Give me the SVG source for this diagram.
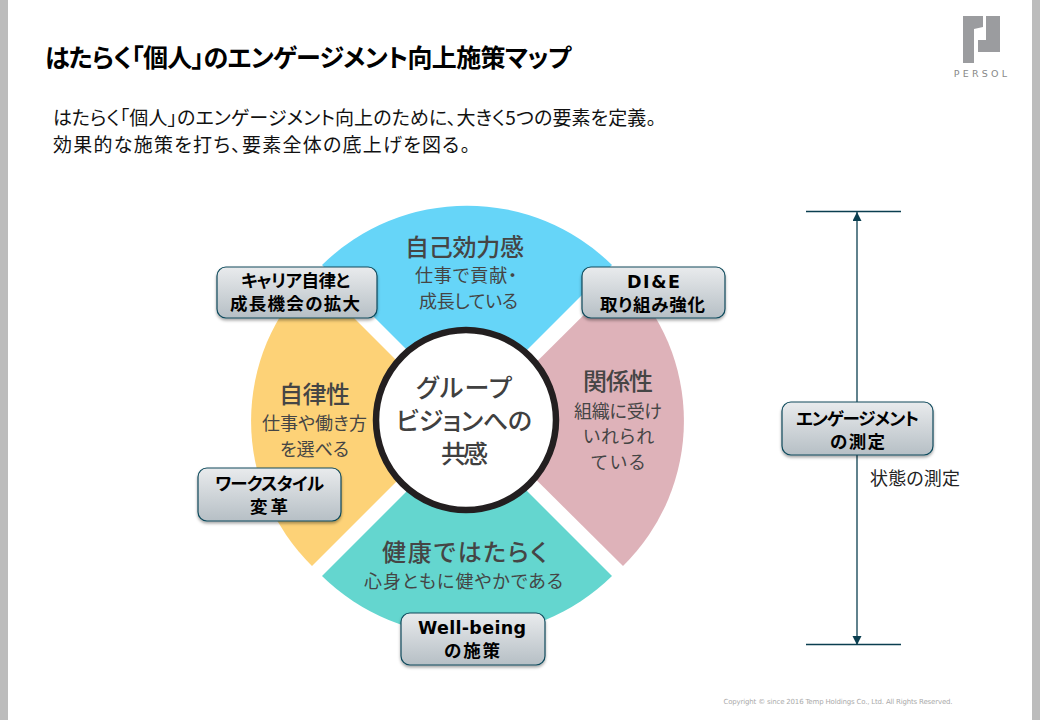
<svg xmlns="http://www.w3.org/2000/svg" width="1040" height="720" viewBox="0 0 1040 720">
<style>
text{font-family:"Noto Sans CJK JP","Noto Sans CJK SC",sans-serif;text-anchor:middle;font-feature-settings:"palt"}
.h{font-size:24px;fill:#454545;font-weight:500}
.s{font-size:18px;fill:#454545}
.c{font-size:25px;fill:#404040;font-weight:500}
.b{font-size:17.5px;font-weight:700;fill:#000}
.l{font-family:"DejaVu Sans","Noto Sans CJK JP",sans-serif}
.box{fill:url(#g);stroke:#0e4a5c;stroke-width:1.2;filter:url(#sh)}
.ln{stroke:#0b3f50;stroke-width:1.3;fill:none}
.bar{fill:#bcbcbc}
</style>
<defs>
<linearGradient id="g" x1="0" y1="0" x2="0" y2="1"><stop offset="0" stop-color="#e9ebed"/><stop offset="1" stop-color="#b6bfc5"/></linearGradient>
<filter id="sh" x="-10%" y="-15%" width="120%" height="140%"><feDropShadow dx="0" dy="2" stdDeviation="1.5" flood-color="#000" flood-opacity=".35"/></filter>
<marker id="ar" markerWidth="10" markerHeight="10" refX="9" refY="4.5" orient="auto-start-reverse" markerUnits="userSpaceOnUse"><path d="M0,0L9,4.5L0,9Z" fill="#0b3f50"/></marker>
</defs>
<rect width="1040" height="720" fill="#fff"/>
<rect class="bar" x="0" y="0" width="8" height="720"/>
<rect class="bar" x="1032" y="0" width="8" height="720"/>
<text x="45" y="67" style="text-anchor:start;font-size:25px;font-weight:700;fill:#000" textLength="526">はたらく「個人」のエンゲージメント向上施策マップ</text>
<text x="53" y="125" style="text-anchor:start;font-size:19px;fill:#111" textLength="603">はたらく「個人」のエンゲージメント向上のために、大きく5つの要素を定義。</text>
<text x="53" y="152" style="text-anchor:start;font-size:19px;fill:#111" textLength="417">効果的な施策を打ち、要素全体の底上げを図る。</text>
<g id="logo">
<path d="M963,16H983V27L974,29V63H963Z" fill="#9b9c9f"/>
<path d="M986,16H1000V52H978V40H986Z" fill="#9b9c9f"/>
<text x="982" y="77" style="font-family:'DejaVu Sans',sans-serif;font-size:9.5px;letter-spacing:3.2px;fill:#888">PERSOL</text>
</g>
<g id="seg-self"><path d="M322,265A207,207 0 0 1 612,265L467,410Z" fill="#66d5f8"/>
<text class="h" x="464.5" y="256" textLength="119">自己効力感</text><text class="s" x="466" y="282" textLength="102">仕事で貢献・</text><text class="s" x="468.5" y="308" textLength="99">成長している</text></g>
<g id="seg-auto"><path d="M312,276A203,203 0 0 0 312,566L457,421Z" fill="#fdd277"/>
<text class="h" x="314.5" y="403" textLength="71">自律性</text><text class="s" x="314.5" y="430" textLength="105">仕事や働き方</text><text class="s" x="314.5" y="456" textLength="69">を選べる</text></g>
<g id="seg-rel"><path d="M623,276A203,203 0 0 1 623,566L477,421Z" fill="#deb2b9"/>
<text class="h" x="618" y="390" textLength="70">関係性</text><text class="s" x="618" y="418" textLength="88">組織に受け</text><text class="s" x="618.5" y="443" textLength="71">いれられ</text><text class="s" x="618" y="469" textLength="54">ている</text></g>
<g id="seg-health"><path d="M322,576A207,207 0 0 0 612,576L467,431Z" fill="#64d6cf"/>
<text class="h" x="464.5" y="561" textLength="165">健康ではたらく</text><text class="s" x="463.5" y="588" textLength="199">心身ともに健やかである</text></g>
<g id="center"><circle cx="466" cy="420" r="90" fill="#fff" stroke="#231f20" stroke-width="6.5"/>
<text class="c" x="464" y="397" textLength="96">グループ</text><text class="c" x="464" y="430" textLength="136">ビジョンへの</text><text class="c" x="464.5" y="463" textLength="47">共感</text></g>
<g id="connectors">
<path class="ln" d="M806,211.5H901M806,644.5H901"/>
<path class="ln" d="M857,645V212" marker-start="url(#ar)" marker-end="url(#ar)"/>
</g>
<g id="box-career"><rect class="box" x="217" y="267" width="160" height="51" rx="9"/><text class="b" x="295.5" y="287" textLength="109">キャリア自律と</text><text class="b" x="295" y="310" textLength="130">成長機会の拡大</text></g>
<g id="box-die"><rect class="box" x="582" y="267" width="143" height="51" rx="9"/><text class="b l" x="653.5" y="288" textLength="53">DI&amp;E</text><text class="b" x="652.5" y="311" textLength="105">取り組み強化</text></g>
<g id="box-work"><rect class="box" x="198" y="468" width="143" height="53" rx="9"/><text class="b" x="269.5" y="490" textLength="109">ワークスタイル</text><text class="b" x="269" y="513" textLength="38">変革</text></g>
<g id="box-well"><rect class="box" x="401" y="613" width="144" height="52" rx="9"/><text class="b l" x="472" y="634" textLength="108">Well-being</text><text class="b" x="472" y="657" textLength="56">の施策</text></g>
<g id="box-eng"><rect class="box" x="782" y="402" width="151" height="53" rx="9"/><text class="b" x="857.5" y="425" textLength="123">エンゲージメント</text><text class="b" x="857.5" y="448" textLength="55">の測定</text></g>
<text x="915" y="485" style="font-size:18px;fill:#222" textLength="90">状態の測定</text>
<text x="838" y="704" style="font-family:'DejaVu Sans',sans-serif;font-size:7px;fill:#aaa" textLength="229">Copyright © since 2016 Temp Holdings Co., Ltd. All Rights Reserved.</text>
</svg>
